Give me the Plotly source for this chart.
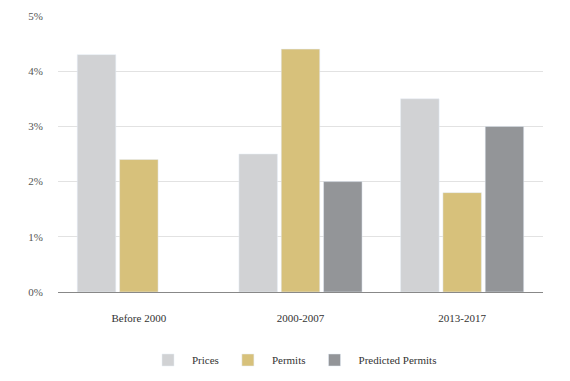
import plotly.graph_objects as go

categories = ["Before 2000", "2000-2007", "2013-2017"]
prices = [4.3, 2.5, 3.5]
permits = [2.4, 4.4, 1.8]
predicted = [None, 2.0, 3.0]
tick_vals = [0, 1, 2, 3, 4, 5]
tick_text = ["0%", "1%", "2%", "3%", "4%", "5%"]

font = "Liberation Serif"

fig = go.Figure()
fig.add_trace(go.Bar(name="Prices", x=categories, y=prices, marker_color="#D1D2D4"))
fig.add_trace(go.Bar(name="Permits", x=categories, y=permits, marker_color="#D7C17B"))
fig.add_trace(go.Bar(name="Predicted Permits", x=categories, y=predicted, marker_color="#939598"))

fig.update_layout(
    width=570, height=381,
    margin=dict(l=58, r=27, t=16, b=89),
    paper_bgcolor="white", plot_bgcolor="white",
    barmode="group", bargap=0.215, bargroupgap=0.09,
    font=dict(family=font, size=11, color="#333333"),
    showlegend=True,
    legend=dict(orientation="h", xref="container", yref="container",
                x=144 / 570, xanchor="left", y=1 - 360 / 381, yanchor="middle",
                font=dict(family=font, size=11, color="#333333"),
                itemwidth=38, tracegroupgap=0),
    xaxis=dict(showgrid=False, showline=True, linecolor="#888888", linewidth=1,
               ticks="", ticklabelstandoff=16, range=[-0.5, 2.5], automargin=False),
    yaxis=dict(range=[0, 5], tickvals=tick_vals, ticktext=tick_text,
               showgrid=True, gridcolor="#E2E2E2", gridwidth=1,
               zeroline=False, showline=False, ticks="", ticklabelstandoff=14,
               tickfont=dict(color="#555555"), automargin=False),
)

fig.write_html("out.html", config={"displayModeBar": False},
               post_script="document.body.style.margin='0';")
